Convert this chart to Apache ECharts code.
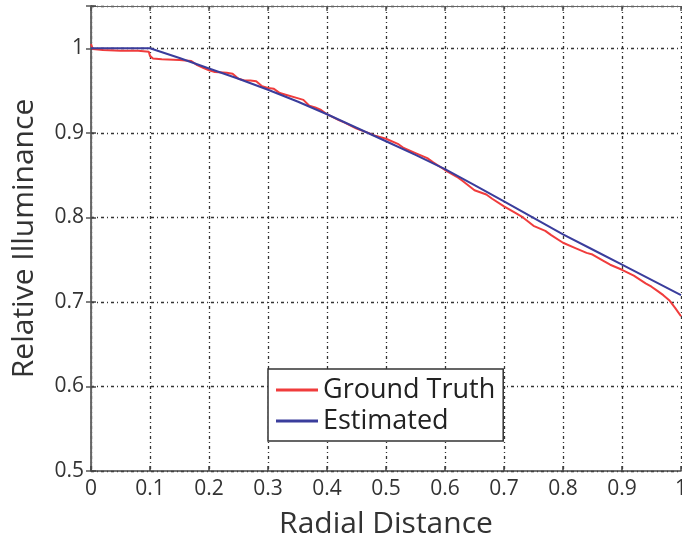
<!DOCTYPE html>
<html>
<head>
<meta charset="utf-8">
<script src="https://cdn.jsdelivr.net/npm/echarts@6/dist/echarts.min.js"></script>
<style>
  html, body { margin: 0; padding: 0; background: #fff; }
  #chart { width: 682px; height: 540px; }
</style>
</head>
<body>
<div id="chart"></div>
<script>
// Radial positions (normalized) and relative illuminance values
const truthX = [0, 0.003, 0.02, 0.05, 0.08, 0.098, 0.1, 0.105, 0.12, 0.15, 0.17, 0.18, 0.19, 0.2, 0.21, 0.23, 0.24, 0.25, 0.26, 0.27, 0.28, 0.29, 0.3, 0.31, 0.32, 0.33, 0.35, 0.36, 0.37, 0.38, 0.39, 0.4, 0.42, 0.43, 0.45, 0.47, 0.48, 0.5, 0.52, 0.53, 0.55, 0.57, 0.58, 0.6, 0.62, 0.63, 0.65, 0.67, 0.68, 0.7, 0.72, 0.73, 0.75, 0.77, 0.78, 0.8, 0.82, 0.84, 0.85, 0.87, 0.88, 0.9, 0.92, 0.94, 0.95, 0.96, 0.97, 0.98, 0.99, 1.0];
const truthY = [1.005, 0.999, 0.998, 0.997, 0.997, 0.996, 0.991, 0.988, 0.987, 0.986, 0.985, 0.980, 0.977, 0.974, 0.972, 0.971, 0.970, 0.964, 0.962, 0.962, 0.961, 0.955, 0.953, 0.952, 0.947, 0.945, 0.941, 0.939, 0.932, 0.930, 0.927, 0.922, 0.915, 0.912, 0.905, 0.900, 0.897, 0.893, 0.887, 0.882, 0.876, 0.870, 0.865, 0.856, 0.848, 0.843, 0.832, 0.827, 0.822, 0.813, 0.805, 0.801, 0.790, 0.784, 0.779, 0.770, 0.764, 0.758, 0.756, 0.748, 0.744, 0.738, 0.731, 0.722, 0.718, 0.713, 0.708, 0.702, 0.693, 0.683];

const estX = [0, 0.1, 0.15, 0.2, 0.25, 0.3, 0.35, 0.4, 0.45, 0.5, 0.55, 0.6, 0.65, 0.7, 0.75, 0.8, 0.85, 0.9, 0.95, 1.0];
const estY = [1.0, 1.0, 0.9885, 0.976, 0.964, 0.951, 0.937, 0.922, 0.906, 0.890, 0.874, 0.857, 0.838, 0.819, 0.7995, 0.780, 0.762, 0.744, 0.726, 0.708];

const xTicks = [0, 0.1, 0.2, 0.3, 0.4, 0.5, 0.6, 0.7, 0.8, 0.9, 1];
const yTicks = [0.5, 0.6, 0.7, 0.8, 0.9, 1];

const seriesNames = ['Ground Truth', 'Estimated'];

const FONT = '"Open Sans", "DejaVu Sans", sans-serif';
const AXIS_COLOR = '#444';
const gridDash = { color: '#333', width: 1.3, type: [3, 3, 1, 3] };

const zip = (xs, ys) => xs.map((x, i) => [x, ys[i]]);

const chart = echarts.init(document.getElementById('chart'), null, { renderer: 'canvas' });

chart.setOption({
  animation: false,
  backgroundColor: '#fff',
  grid: { left: 91, top: 6, right: 1, bottom: 69, containLabel: false, outerBoundsMode: 'none' },
  legend: {
    orient: 'vertical',
    left: 268,
    top: 369,
    padding: [6, 8, 5, 8],
    itemGap: 1,
    itemWidth: 42,
    itemHeight: 3,
    icon: 'rect',
    selectedMode: false,
    backgroundColor: '#fff',
    borderColor: '#333',
    borderWidth: 1.5,
    borderRadius: 0,
    textStyle: { fontFamily: FONT, fontSize: 27, color: '#222', lineHeight: 30 },
    data: seriesNames
  },
  xAxis: [
    {
      type: 'value', min: 0, max: 1, interval: 0.1,
      name: 'Radial Distance', nameLocation: 'middle', nameGap: 38,
      nameTextStyle: { fontFamily: FONT, fontSize: 30, color: '#333' },
      axisLine: { lineStyle: { color: AXIS_COLOR, width: 1.5 } },
      axisTick: { inside: true, length: 5, lineStyle: { color: AXIS_COLOR, width: 1.5 } },
      axisLabel: {
        fontFamily: FONT, fontSize: 21, color: '#333', margin: 8,
        formatter: v => xTicks.includes(+v.toFixed(1)) ? String(+v.toFixed(1)) : ''
      },
      splitLine: { show: true, lineStyle: gridDash }
    },
    {
      type: 'value', min: 0, max: 1, interval: 0.1, position: 'top',
      axisLine: { show: true, lineStyle: { color: '#666', width: 1.2 } },
      axisTick: { show: true, inside: true, length: 5, lineStyle: { color: '#555', width: 1.5 } },
      axisLabel: { show: false },
      splitLine: { show: false }
    }
  ],
  yAxis: [
    {
      type: 'value', min: 0.5, max: 1.05, interval: 0.1,
      name: 'Relative Illuminance', nameLocation: 'middle', nameGap: 52,
      nameTextStyle: { fontFamily: FONT, fontSize: 30, color: '#333' },
      axisLine: { lineStyle: { color: AXIS_COLOR, width: 1.5 } },
      axisTick: { inside: true, length: 5, lineStyle: { color: AXIS_COLOR, width: 1.5 } },
      axisLabel: {
        fontFamily: FONT, fontSize: 21, color: '#333', margin: 7,
        formatter: v => {
          const r = +v.toFixed(2);
          return yTicks.includes(r) ? String(r) : '';
        }
      },
      splitLine: { show: true, lineStyle: gridDash }
    },
    {
      type: 'value', min: 0.5, max: 1.05, interval: 0.1, position: 'right',
      axisLine: { show: true, lineStyle: { color: '#666', width: 1.2 } },
      axisTick: { show: true, inside: true, length: 5, lineStyle: { color: '#555', width: 1.5 } },
      axisLabel: { show: false },
      splitLine: { show: false }
    }
  ],
  series: [
    {
      name: seriesNames[0], type: 'line', xAxisIndex: 0, yAxisIndex: 0,
      data: zip(truthX, truthY), symbol: 'none',
      itemStyle: { color: '#f03c3c' },
      lineStyle: { color: '#f03c3c', width: 2 },
      z: 3
    },
    {
      name: seriesNames[1], type: 'line', xAxisIndex: 0, yAxisIndex: 0,
      data: zip(estX, estY), symbol: 'none',
      itemStyle: { color: '#3a3d9c' },
      lineStyle: { color: '#3a3d9c', width: 2 },
      z: 4
    }
  ]
});
</script>
</body>
</html>
